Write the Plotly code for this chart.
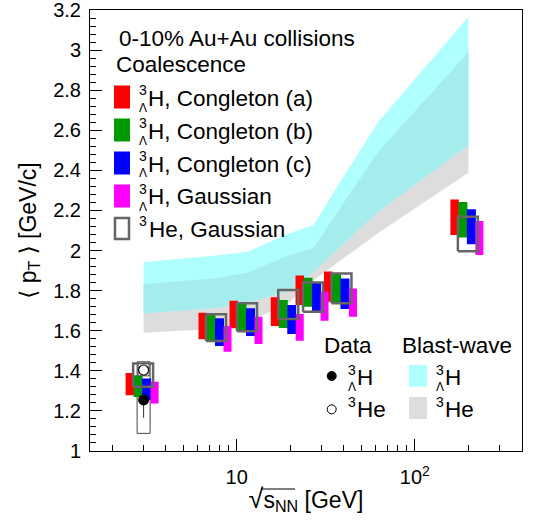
import math
import plotly.graph_objects as go

# ---------------- data ----------------
energies = [3, 7.7, 11.5, 19.6, 27, 39, 200]

cong_a_low = [1.278, 1.557, 1.612, 1.623, 1.728, 1.745, 2.077]
cong_a_high = [1.389, 1.690, 1.750, 1.767, 1.876, 1.896, 2.255]
cong_b_low = [1.270, 1.550, 1.598, 1.613, 1.720, 1.737, 2.065]
cong_b_high = [1.378, 1.678, 1.737, 1.753, 1.864, 1.886, 2.242]
cong_c_low = [1.255, 1.524, 1.574, 1.584, 1.695, 1.708, 2.032]
cong_c_high = [1.362, 1.662, 1.712, 1.728, 1.840, 1.861, 2.206]
gaus_h3l_low = [1.237, 1.495, 1.534, 1.550, 1.650, 1.670, 1.978]
gaus_h3l_high = [1.345, 1.623, 1.670, 1.683, 1.795, 1.811, 2.148]
gaus_he3_low = [1.320, 1.549, 1.598, 1.658, 1.695, 1.737, 1.996]
gaus_he3_high = [1.437, 1.682, 1.737, 1.803, 1.840, 1.886, 2.168]

bw_energies = [3, 7.7, 11.5, 19.6, 27, 39, 62.4, 200]
bw_h3l_low = [1.687, 1.715, 1.740, 1.800, 1.894, 2.028, 2.194, 2.526]
bw_h3l_high = [1.943, 1.975, 1.994, 2.085, 2.127, 2.357, 2.642, 3.166]
bw_he3_low = [1.590, 1.610, 1.640, 1.740, 1.850, 1.956, 2.087, 2.388]
bw_he3_high = [1.833, 1.862, 1.889, 1.975, 2.011, 2.226, 2.493, 2.990]

data_energy = [3]
h3l_mean = [1.255]
h3l_stat = [0.09]
h3l_sys_low = [1.088]
h3l_sys_high = [1.445]
he3_mean = [1.404]
he3_sys_low = [1.375]
he3_sys_high = [1.435]

y_tickvals = [1.0, 1.2, 1.4, 1.6, 1.8, 2.0, 2.2, 2.4, 2.6, 2.8, 3.0, 3.2]
y_ticktext = ["1", "1.2", "1.4", "1.6", "1.8", "2", "2.2", "2.4", "2.6", "2.8", "3", "3.2"]
x_tickvals = [10, 100]
x_ticktext = ["10", "10<sup>2</sup>"]
x_minor = [2, 3, 4, 5, 6, 7, 8, 9, 20, 30, 40, 50, 60, 70, 80, 90, 200, 300]

# ---------------- layout constants ----------------
W, H = 538, 520
L, R, T, B = 90, 16, 10, 69
PW, PH = W - L - R, H - T - B
XMIN, XMAX = 1.5, 400
YMIN, YMAX = 1.0, 3.2
DEC_PER_PX = (math.log10(XMAX) - math.log10(XMIN)) / PW

FONT = "Liberation Sans, Arial, DejaVu Sans, sans-serif"
LEG = 22.5

CYAN = "#b0ffff"
GRAY = "#dddddd"
OVERLAP = "#a5ecec"


def shift(e, px):
    return e * 10 ** (px * DEC_PER_PX)


def boxes(xs, lows, highs, p0, p1):
    bx, by = [], []
    for e, lo, hi in zip(xs, lows, highs):
        a, b = shift(e, p0), shift(e, p1)
        bx += [a, b, b, a, a, None]
        by += [lo, lo, hi, hi, lo, None]
    return bx, by


def band(xs, lo, hi):
    return list(xs) + list(xs)[::-1] + [xs[0]], list(hi) + list(lo)[::-1] + [hi[0]]


fig = go.Figure()

# blast-wave bands (He3, H3L, and their overlap)
for lo, hi, col in [
    (bw_he3_low, bw_he3_high, GRAY),
    (bw_h3l_low, bw_h3l_high, CYAN),
    ([max(a, b) for a, b in zip(bw_h3l_low, bw_he3_low)],
     [min(a, b) for a, b in zip(bw_h3l_high, bw_he3_high)], OVERLAP),
]:
    bx, by = band(bw_energies, lo, hi)
    fig.add_trace(go.Scatter(x=bx, y=by, fill="toself", fillcolor=col,
                             line=dict(width=0), mode="lines", hoverinfo="skip"))

# data systematic box (H3L) and stat error bar, drawn under the model bars
sx, sy = boxes(data_energy, h3l_sys_low, h3l_sys_high, -6.5, 6.5)
fig.add_trace(go.Scatter(x=sx, y=sy, mode="lines", fill="toself", fillcolor="white",
                         line=dict(color="#444444", width=1), hoverinfo="skip"))
ex, ey = [], []
for e, m, s in zip(data_energy, h3l_mean, h3l_stat):
    ex += [e, e, None]
    ey += [m - s, m + s, None]
fig.add_trace(go.Scatter(x=ex, y=ey, mode="lines", line=dict(color="#333333", width=1),
                         hoverinfo="skip"))

# coalescence bars
models = [
    (cong_a_low, cong_a_high, "#ff0000", -18.0, -9.5),
    (cong_b_low, cong_b_high, "#009a00", -10.0, -1.0),
    (cong_c_low, cong_c_high, "#0000ff", -1.5, 7.5),
    (gaus_h3l_low, gaus_h3l_high, "#ff00ff", 7.0, 15.0),
]
for lo, hi, col, p0, p1 in models:
    mx, my = boxes(energies, lo, hi, p0, p1)
    fig.add_trace(go.Scatter(x=mx, y=my, mode="lines", fill="toself", fillcolor=col,
                             line=dict(width=0, color=col), hoverinfo="skip"))

# He3 gaussian coalescence boxes (outline)
gx, gy = boxes(energies, gaus_he3_low, gaus_he3_high, -10.5, 9.5)
fig.add_trace(go.Scatter(x=gx, y=gy, mode="lines",
                         line=dict(color="#666666", width=2.5), hoverinfo="skip"))

# He3 data sys box
hx, hy = boxes(data_energy, he3_sys_low, he3_sys_high, -5.5, 5.5)
fig.add_trace(go.Scatter(x=hx, y=hy, mode="lines", fill="toself", fillcolor="white",
                         line=dict(color="#444444", width=1), hoverinfo="skip"))

# data markers
fig.add_trace(go.Scatter(x=data_energy, y=he3_mean, mode="markers",
                         marker=dict(symbol="circle", size=10, color="white",
                                     line=dict(color="black", width=1.2))))
fig.add_trace(go.Scatter(x=data_energy, y=h3l_mean, mode="markers",
                         marker=dict(symbol="circle", size=11, color="black",
                                     line=dict(color="black", width=0))))

# ---------------- legend (annotations / shapes in paper coordinates) ----------------
def px(xp):
    return (xp - L) / PW


def py(yp):
    return (T + PH - yp) / PH


annotations = []
shapes = []


def text(x, y, s, size=LEG, anchor="left"):
    annotations.append(dict(x=px(x), y=py(y), xref="paper", yref="paper", text=s,
                            showarrow=False, xanchor=anchor, yanchor="middle",
                            font=dict(family=FONT, size=size, color="black")))


def hyper(x, y, rest, size=LEG):
    text(x - 3.5, y - 8, "3", size=14, anchor="center")
    text(x - 3.5, y + 9.5, "Λ", size=12, anchor="center")
    text(x, y, rest, size=size)


def helium(x, y, rest, size=LEG):
    text(x - 3.5, y - 8, "3", size=14, anchor="center")
    text(x, y, rest, size=size)


def rect(x0, y0, x1, y1, fill=None, line=None, lw=0):
    shapes.append(dict(type="rect", xref="paper", yref="paper",
                       x0=px(x0), x1=px(x1), y0=py(y1), y1=py(y0),
                       fillcolor=fill if fill else "rgba(0,0,0,0)",
                       line=dict(color=line if line else "rgba(0,0,0,0)", width=lw),
                       layer="above"))


def circ(cx, cy, r, fill, line="black", lw=1):
    shapes.append(dict(type="circle", xref="paper", yref="paper",
                       x0=px(cx - r), x1=px(cx + r), y0=py(cy + r), y1=py(cy - r),
                       fillcolor=fill, line=dict(color=line, width=lw), layer="above"))


text(116.5, 38.5, "0-10% Au+Au collisions")
text(114, 65, "Coalescence")
rows = [(97, "#ff0000", "H, Congleton (a)"), (130, "#009a00", "H, Congleton (b)"),
        (163, "#0000ff", "H, Congleton (c)"), (196, "#ff00ff", "H, Gaussian")]
for yc, col, lab in rows:
    rect(114, yc - 11.5, 130, yc + 11.5, fill=col)
    hyper(146, yc + 1, lab)
rect(115, 218, 129, 239, line="#666666", lw=2.5)
helium(146.5, 229, "He, Gaussian")

text(347.5, 345.5, "Data", anchor="center")
text(456.7, 345.5, "Blast-wave", anchor="center")
circ(331.7, 376, 4.5, "black")
hyper(355, 377.5, "H")
circ(331.7, 409.3, 4.5, "white")
helium(355, 409.7, "He")
rect(409, 365, 427, 386.7, fill=CYAN)
hyper(443, 377.5, "H")
rect(409, 397, 427, 419, fill=GRAY)
helium(443, 409.7, "He")

# overline of the square root in the x title
shapes.append(dict(type="line", xref="paper", yref="paper",
                   x0=px(261), x1=px(295), y0=py(489), y1=py(489),
                   line=dict(color="black", width=1.2)))

fig.update_layout(
    width=W, height=H,
    margin=dict(l=L, r=R, t=T, b=B, autoexpand=False),
    paper_bgcolor="white", plot_bgcolor="white",
    showlegend=False,
    font=dict(family=FONT, size=20, color="black"),
    annotations=annotations, shapes=shapes,
)
fig.update_xaxes(
    type="log", range=[math.log10(XMIN), math.log10(XMAX)], automargin=False,
    showline=True, mirror=True, linecolor="black", linewidth=1,
    showgrid=False, zeroline=False,
    tickmode="array", tickvals=x_tickvals, ticktext=x_ticktext,
    ticks="inside", ticklen=12, tickcolor="black", tickwidth=1,
    tickfont=dict(family=FONT, size=20), ticklabelstandoff=8,
    ticklabeloverflow="allow",
    minor=dict(tickmode="array", tickvals=x_minor, ticks="inside", ticklen=6,
               tickcolor="black", tickwidth=1, showgrid=False),
    title=dict(text="<span style='font-size:27px'>√</span>s<sub>NN</sub> [GeV]",
               font=dict(family=FONT, size=23), standoff=4),
)
fig.update_yaxes(
    range=[YMIN, YMAX], automargin=False,
    showline=True, mirror=True, linecolor="black", linewidth=1,
    showgrid=False, zeroline=False,
    tickmode="array", tickvals=y_tickvals, ticktext=y_ticktext,
    ticks="inside", ticklen=12, tickcolor="black", tickwidth=1,
    tickfont=dict(family=FONT, size=20), ticklabelstandoff=4,
    ticklabeloverflow="allow",
    minor=dict(dtick=0.04, tick0=1.0, ticks="inside", ticklen=6,
               tickcolor="black", tickwidth=1, showgrid=False),
    title=dict(text="⟨ p<sub>T</sub> ⟩ [GeV/c]", font=dict(family=FONT, size=23), standoff=10),
)

fig.write_html("out.html")
